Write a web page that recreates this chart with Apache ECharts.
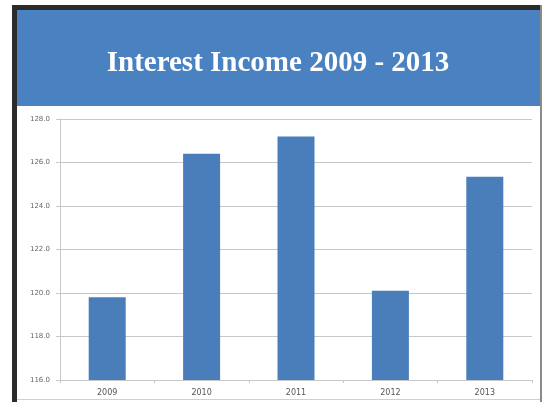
<!DOCTYPE html>
<html>
<head>
<meta charset="utf-8">
<script src="https://cdn.jsdelivr.net/npm/echarts@6/dist/echarts.min.js"></script>
<style>
html,body{margin:0;padding:0;background:#fff;}
#chart{width:543px;height:402px;}
</style>
</head>
<body>
<div id="chart"></div>
<script>
const titleText = "Interest Income 2009 - 2013";
const categories = ["2009", "2010", "2011", "2012", "2013"];
const values = [119.8, 126.4, 127.2, 120.1, 125.35];
const yMin = 116, yMax = 128, yStep = 2;

const chart = echarts.init(document.getElementById('chart'), null, {renderer: 'canvas'});
chart.setOption({
  animation: false,
  backgroundColor: '#ffffff',
  graphic: [
    {type: 'rect', shape: {x: 12, y: 5, width: 5, height: 397}, style: {fill: '#2b2b2b'}, z: -10},
    {type: 'rect', shape: {x: 12, y: 5, width: 530, height: 5}, style: {fill: '#2b2b2b'}, z: -10},
    {type: 'rect', shape: {x: 540, y: 5, width: 2, height: 397}, style: {fill: '#8a8a8a'}, z: -10},
    {type: 'rect', shape: {x: 17, y: 399, width: 523, height: 1}, style: {fill: '#d0d0d0'}, z: -10},
    {type: 'rect', shape: {x: 17, y: 10, width: 523, height: 96}, style: {fill: '#4a81c0'}, z: -8}
  ],
  title: {
    text: titleText,
    left: 273, top: 44, textAlign: 'center',
    textStyle: {color: '#ffffff', fontFamily: 'Liberation Serif', fontWeight: 'bold', fontSize: 29}
  },
  grid: {left: 60, top: 119, right: 11, bottom: 22, containLabel: false},
  xAxis: {
    type: 'category',
    data: categories,
    axisLine: {lineStyle: {color: '#c8c8c8'}},
    axisTick: {show: true, length: 3, lineStyle: {color: '#c8c8c8'}},
    axisLabel: {color: '#555', fontSize: 8, fontFamily: 'DejaVu Sans', margin: 9}
  },
  yAxis: {
    type: 'value', min: yMin, max: yMax, interval: yStep,
    axisLine: {show: true, lineStyle: {color: '#c8c8c8'}},
    axisTick: {show: true, length: 4, lineStyle: {color: '#c8c8c8'}},
    axisLabel: {color: '#666', fontSize: 7, fontFamily: 'DejaVu Sans', margin: 10,
      formatter: v => v.toFixed(1)},
    splitLine: {lineStyle: {color: '#c8c8c8'}}
  },
  series: [{
    type: 'bar', data: values, barWidth: 37,
    itemStyle: {color: '#4a7ebb'}
  }]
});
</script>
</body>
</html>
